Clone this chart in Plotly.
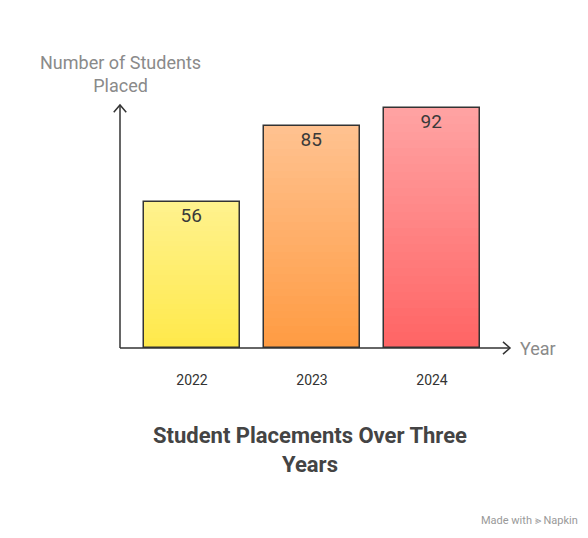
import plotly.graph_objects as go

years = ["2022", "2023", "2024"]
placed = [56, 85, 92]
top_colors = ["#FFF28E", "#FFC290", "#FFA3A3"]
bottom_colors = ["#FFE94A", "#FF9B42", "#FF6464"]

def hex2rgb(h):
    h = h.lstrip("#")
    return [int(h[i:i+2], 16) for i in (0, 2, 4)]

def mix(a, b, t):
    ca, cb = hex2rgb(a), hex2rgb(b)
    return "rgb(%d,%d,%d)" % tuple(round(ca[i] + (cb[i] - ca[i]) * t) for i in range(3))

xs = list(range(len(years)))
fig = go.Figure()
N = 30
for i, (v, tc, bc) in enumerate(zip(placed, top_colors, bottom_colors)):
    step = v / N
    for k in range(N):
        fig.add_trace(go.Bar(x=[xs[i]], y=[step * 1.02], base=[step * k], width=0.8,
                             marker=dict(color=mix(bc, tc, (k + 0.5) / N), line=dict(width=0)),
                             hoverinfo="skip", showlegend=False))
fig.add_trace(go.Bar(x=xs, y=placed, width=0.8, text=[str(v) for v in placed],
                     textposition="inside", insidetextanchor="end",
                     textfont=dict(size=19, color="#3a3a3a", family="Roboto"),
                     marker=dict(color="rgba(0,0,0,0)", line=dict(color="#333333", width=1.5)),
                     showlegend=False))

fig.update_layout(
    width=588, height=538, barmode="overlay", bargap=0,
    paper_bgcolor="white", plot_bgcolor="white",
    margin=dict(l=112, r=86, t=97, b=198),
    font=dict(family="Roboto", color="#333"),
    xaxis=dict(range=[-0.6, 2.65], tickvals=xs, ticktext=years, showgrid=False, zeroline=False,
               showline=False, ticks="", ticklabelstandoff=22, tickfont=dict(size=14, color="#333")),
    yaxis=dict(range=[0, 93.2], showgrid=False, zeroline=False, showline=False, showticklabels=False),
    shapes=[
        dict(type="line", xref="paper", yref="paper", x0=0, y0=0, x1=1, y1=0, line=dict(color="#333", width=1.5)),
        dict(type="line", xref="paper", yref="paper", x0=0, y0=0, x1=0, y1=1, line=dict(color="#333", width=1.5)),
        dict(type="path", xref="paper", yref="paper",
             path="M 0.982 0.025 L 1 0 L 0.982 -0.025", line=dict(color="#333", width=1.5)),
        dict(type="path", xref="paper", yref="paper",
             path="M -0.016 0.97 L 0 1 L 0.016 0.97", line=dict(color="#333", width=1.5)),
    ],
    annotations=[
        dict(text="Number of Students<br>Placed", xref="paper", yref="paper", x=0, y=1.03,
             xanchor="center", yanchor="bottom", showarrow=False, font=dict(size=18, color="#8a8a8a")),
        dict(text="Year", xref="paper", yref="paper", x=1.02, y=0, xanchor="left", yanchor="middle",
             showarrow=False, font=dict(size=18, color="#8a8a8a")),
        dict(text="<b>Student Placements Over Three<br>Years</b>", xref="paper", yref="paper",
             x=0.487, y=-0.3, xanchor="center", yanchor="top", showarrow=False,
             font=dict(size=22, color="#444")),
        dict(text="Made with ⪢ Napkin", xref="paper", yref="paper", x=1.18, y=-0.71,
             xanchor="right", yanchor="middle", showarrow=False, font=dict(size=11, color="#999")),
    ],
)
fig.write_html("out.html")
